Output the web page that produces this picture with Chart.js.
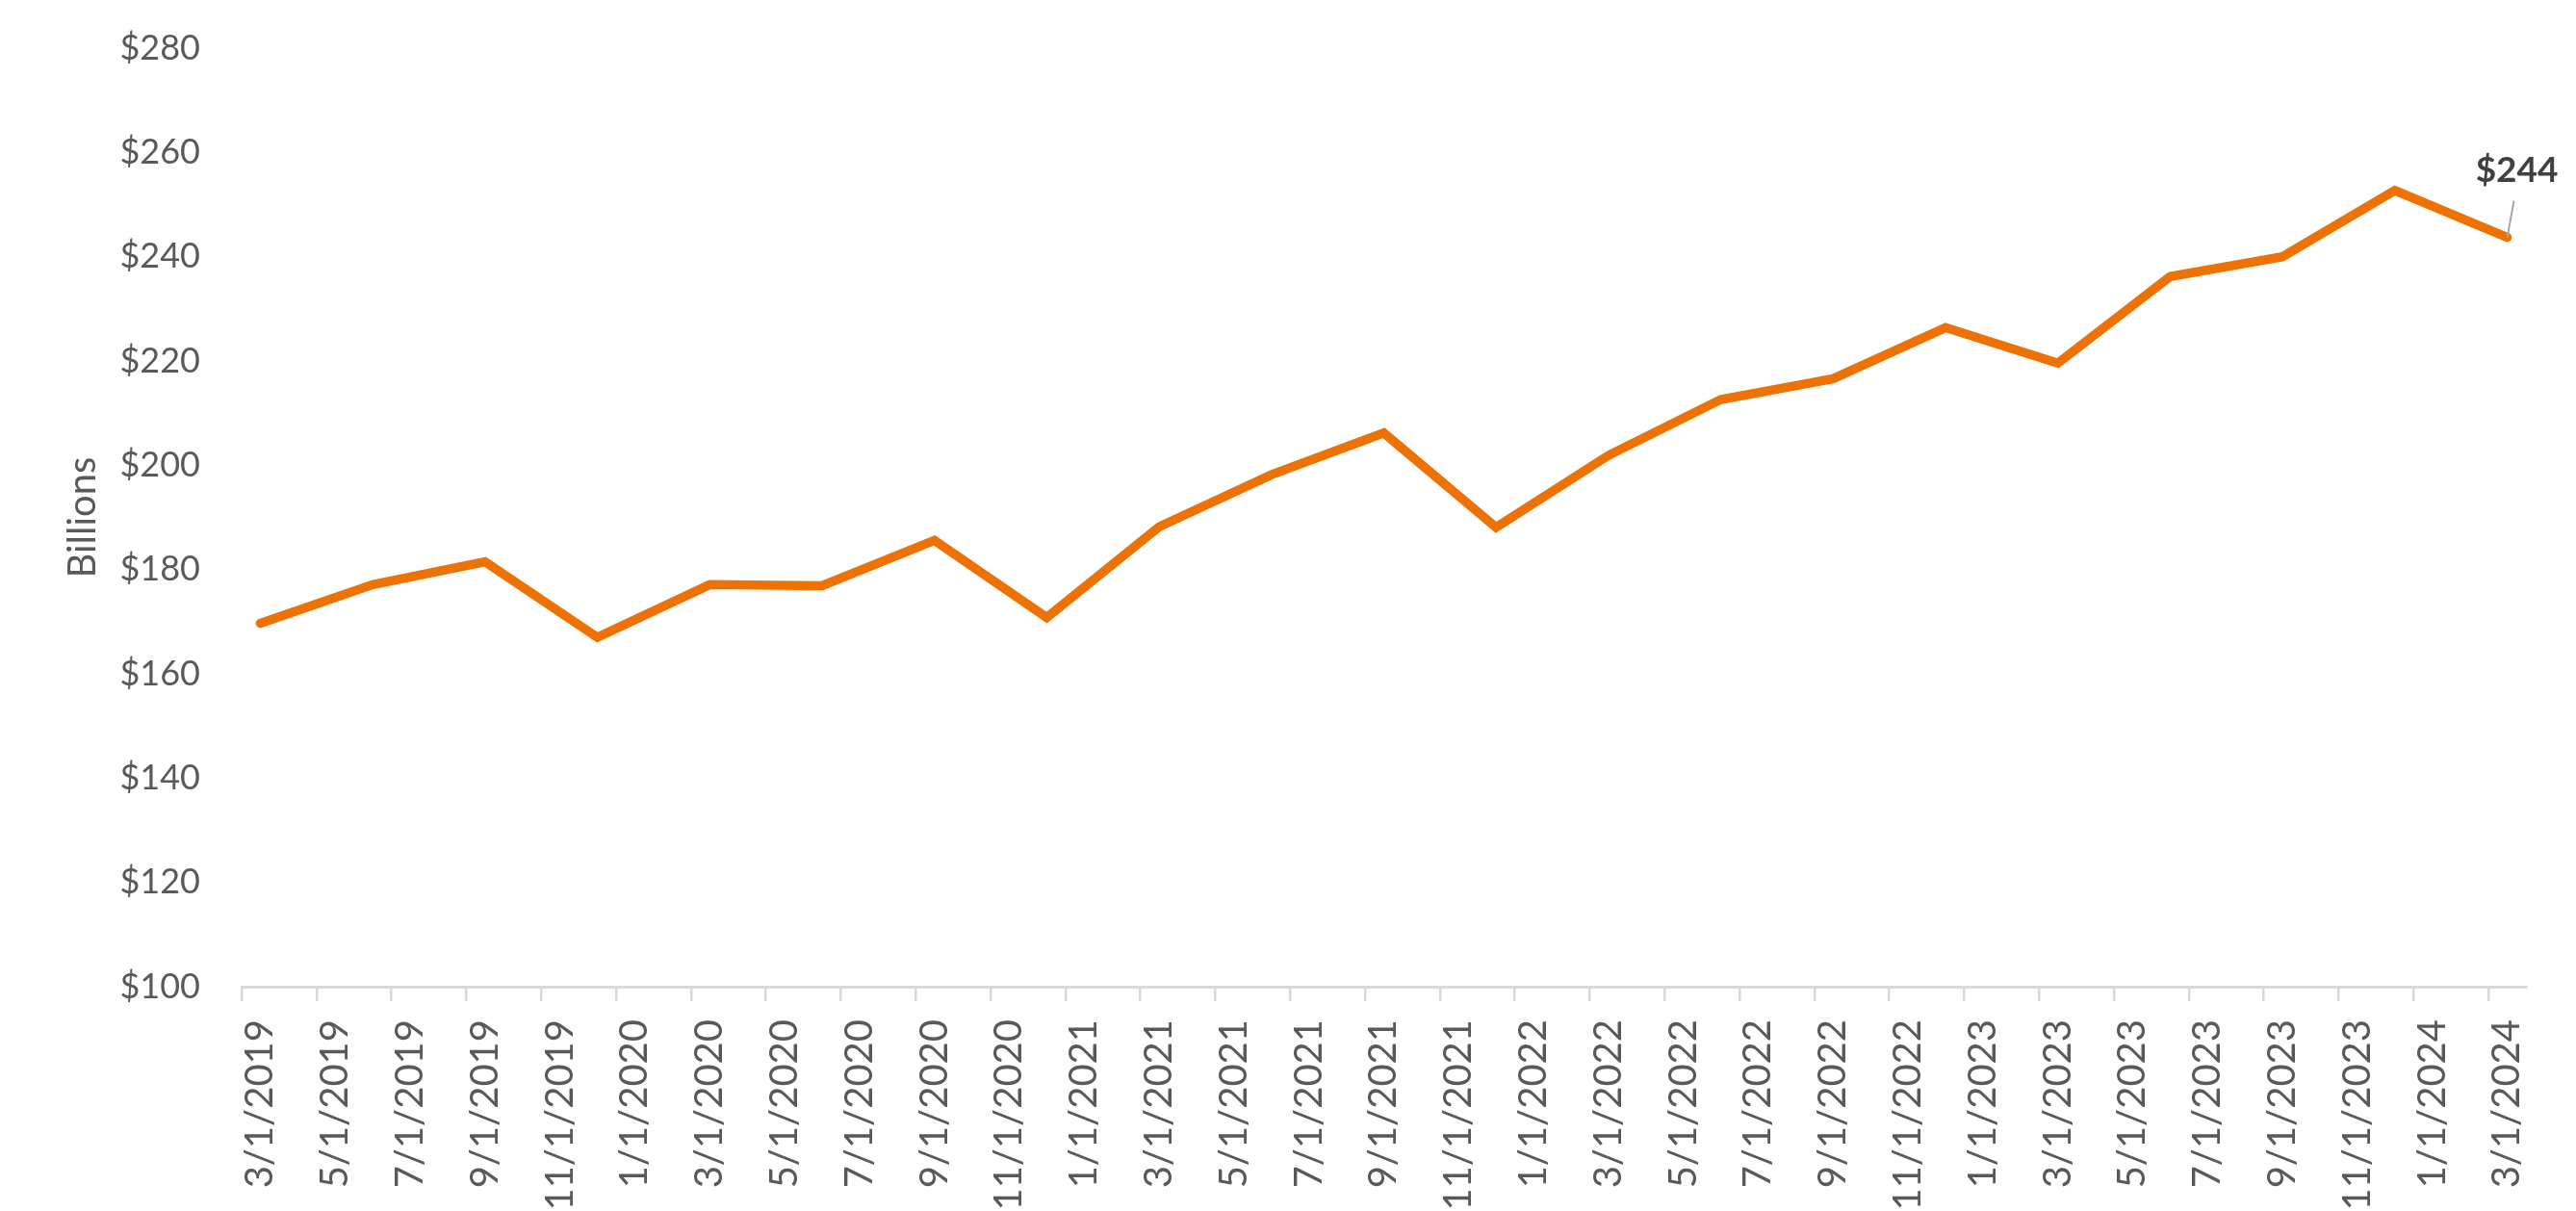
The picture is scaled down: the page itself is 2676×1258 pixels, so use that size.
<!DOCTYPE html>
<html>
<head>
<meta charset="utf-8">
<script src="https://cdn.jsdelivr.net/npm/chart.js@4.4.1/dist/chart.umd.min.js"></script>
<style>
  html, body { margin: 0; padding: 0; background: #ffffff; }
  #wrap { width: 2676px; height: 1258px; position: relative; }
</style>
</head>
<body>
<div id="wrap"><canvas id="myChart"></canvas></div>
<script>
// quarterly observations (billions of dollars)
const dates = ['3/1/2019', '6/1/2019', '9/1/2019', '12/1/2019',
               '3/1/2020', '6/1/2020', '9/1/2020', '12/1/2020',
               '3/1/2021', '6/1/2021', '9/1/2021', '12/1/2021',
               '3/1/2022', '6/1/2022', '9/1/2022', '12/1/2022',
               '3/1/2023', '6/1/2023', '9/1/2023', '12/1/2023',
               '3/1/2024'];
const values = [169.7, 177.1, 181.5, 167.0,
                177.1, 176.9, 185.6, 170.8,
                188.2, 198.2, 206.2, 188.1,
                201.9, 212.6, 216.6, 226.4,
                219.6, 236.2, 240.0, 252.7,
                243.7];

// axis: one slot per month, labels every two months
const firstMonth = { m: 3, y: 2019 };
const monthCount = 61;
const yTicks = [100, 120, 140, 160, 180, 200, 220, 240, 260, 280];

const orange = '#EE7203';
const textGray = '#595959';
const axisGray = '#D9D9D9';

let months = [];
for (let i = 0; i < monthCount; i++) {
    let m = firstMonth.m - 1 + i;
    months.push(((m % 12) + 1) + '/1/' + (firstMonth.y + Math.floor(m / 12)));
}

const points = dates.map((d, i) => {
    return { x: d, y: values[i] };
});

const lastLabel = {
    id: 'lastLabel',
    afterDatasetsDraw(chart) {
        const meta = chart.getDatasetMeta(0);
        const pt = meta.data[meta.data.length - 1];
        const ctx = chart.ctx;
        ctx.save();
        ctx.strokeStyle = '#A6A6A6';
        ctx.lineWidth = 2;
        ctx.beginPath();
        ctx.moveTo(pt.x, pt.y);
        ctx.lineTo(pt.x + 7, pt.y - 38);
        ctx.stroke();
        ctx.fillStyle = '#404040';
        ctx.font = 'bold 37px Lato';
        ctx.textAlign = 'center';
        ctx.textBaseline = 'middle';
        ctx.fillText('$' + Math.round(values[values.length - 1]), pt.x + 10, pt.y - 70);
        ctx.restore();
    }
};

const ctx = document.getElementById('myChart').getContext('2d');
const myChart = new Chart(ctx, {
    type: 'line',
    data: {
        labels: months,
        datasets: [{
            label: 'Billions',
            data: points,
            borderColor: orange,
            backgroundColor: 'transparent',
            borderWidth: 9.5,
            borderJoinStyle: 'miter',
            borderCapStyle: 'round',
            pointRadius: 0,
            tension: 0
        }]
    },
    options: {
        responsive: true,
        maintainAspectRatio: false,
        devicePixelRatio: 1,
        animation: false,
        layout: { padding: { top: 50, right: 52, bottom: 0, left: 0 } },
        plugins: {
            legend: { display: false },
            tooltip: { enabled: false }
        },
        scales: {
            x: {
                type: 'category',
                offset: true,
                afterFit: (scale) => {
                    scale.height = 233;
                    scale.paddingLeft = 0;
                    scale.paddingRight = 0;
                    scale.paddingTop = 0;
                    scale.paddingBottom = 0;
                },
                grid: {
                    offset: true,
                    drawOnChartArea: false,
                    drawTicks: true,
                    tickLength: 15,
                    lineWidth: 2.5,
                    color: (c) => (c.index % 2 === 0 ? axisGray : 'rgba(0,0,0,0)')
                },
                border: { display: true, color: axisGray, width: 3 },
                ticks: {
                    autoSkip: false,
                    minRotation: 90,
                    maxRotation: 90,
                    padding: 19,
                    color: textGray,
                    font: { family: 'Lato', size: 40 },
                    callback: function (val, index) {
                        return index % 2 === 0 ? this.getLabelForValue(val) : '';
                    }
                }
            },
            y: {
                min: 100,
                max: 280,
                afterFit: (scale) => {
                    scale.width = 251;
                    scale.paddingTop = 0;
                    scale.paddingBottom = 0;
                },
                afterBuildTicks: (scale) => {
                    scale.ticks = yTicks.map((v) => ({ value: v }));
                },
                grid: { display: false, drawTicks: false },
                border: { display: false },
                title: {
                    display: true,
                    text: 'Billions',
                    color: textGray,
                    font: { family: 'Lato', size: 40 },
                    padding: { top: 62, bottom: 0 }
                },
                ticks: {
                    padding: 43,
                    color: textGray,
                    font: { family: 'Lato', size: 36 },
                    callback: (v) => '$' + v
                }
            }
        }
    },
    plugins: [lastLabel]
});
</script>
</body>
</html>
